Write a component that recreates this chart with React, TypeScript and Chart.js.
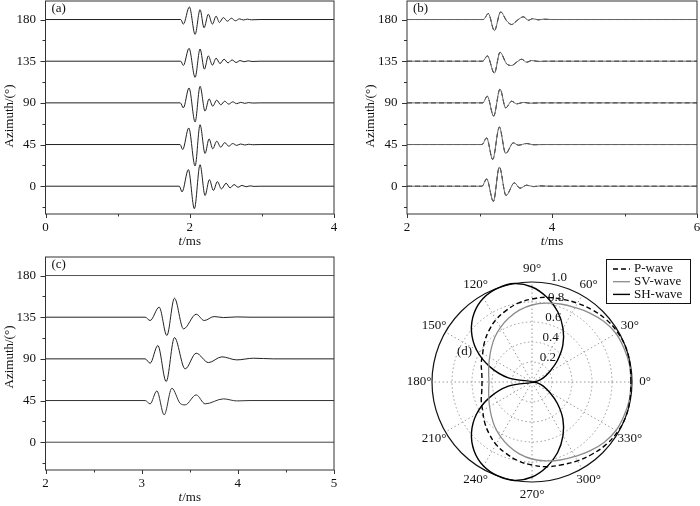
import React, { useEffect, useRef } from 'react';
import { Chart, registerables } from 'chart.js';

Chart.register(...registerables);

// ---------- shared ----------
const azimuths = [0, 45, 90, 135, 180];
const yTickValues = [-22.5, 0, 22.5, 45, 67.5, 90, 112.5, 135, 157.5, 180];
const yTickLabels = [0, 45, 90, 135, 180];

// ---------- panel (a): [t (ms), deflection (deg)] ----------
const waveA0: number[][] = [[0,0],[1.856,0],[1.893,-6.1],[1.981,17.9],[2.064,-24.3],[2.143,23.2],[2.212,-10.0],[2.272,7.1],[2.328,-4.6],[2.383,5.0],[2.439,-2.9],[2.504,3.2],[2.559,-1.8],[2.615,1.8],[2.670,-1.1],[2.725,0.9],[2.781,-0.6],[2.836,0.4],[2.892,-0.2],[2.975,0],[4,0]];
const waveA45: number[][] = [[0,0],[1.866,0],[1.902,-5.4],[1.986,17.9],[2.074,-23.2],[2.143,21.4],[2.212,-9.6],[2.268,6.1],[2.319,-4.6],[2.374,3.6],[2.430,-2.9],[2.485,2.1],[2.541,-1.8],[2.596,1.1],[2.652,-0.9],[2.707,0.6],[2.763,-0.5],[2.818,0.3],[2.874,-0.2],[2.975,0],[4,0]];
const waveA90: number[][] = [[0,0],[1.870,0],[1.911,-5.4],[1.990,16.1],[2.074,-20.7],[2.143,17.9],[2.212,-8.9],[2.268,4.3],[2.319,-3.6],[2.374,2.9],[2.430,-2.1],[2.485,1.8],[2.541,-1.4],[2.596,1.1],[2.652,-0.9],[2.707,0.6],[2.763,-0.5],[2.818,0.3],[2.874,-0.2],[2.975,0],[4,0]];
const waveA135: number[][] = [[0,0],[1.875,0],[1.911,-4.6],[1.990,13.9],[2.074,-17.5],[2.143,13.2],[2.203,-8.6],[2.258,5.7],[2.314,-4.3],[2.365,3.2],[2.420,-2.5],[2.476,2.1],[2.531,-1.8],[2.587,1.4],[2.642,-1.4],[2.698,0.7],[2.753,-0.6],[2.809,0.4],[2.864,-0.3],[2.975,0],[4,0]];
const waveA180: number[][] = [[0,0],[1.875,0],[1.911,-5.0],[1.995,13.6],[2.074,-16.1],[2.143,10.7],[2.198,-8.9],[2.258,5.7],[2.314,-5.0],[2.365,3.6],[2.411,-3.2],[2.466,2.1],[2.522,-1.8],[2.577,1.4],[2.633,-1.4],[2.688,0.7],[2.744,-0.5],[2.799,0.4],[2.855,-0.3],[2.975,0],[4,0]];
const xTicksA = [0, 1, 2, 3, 4];
const xLabelsA = [0, 2, 4];

// ---------- panel (b) ----------
const waveB0: number[][] = [[2,0],[3.034,0],[3.099,7.9],[3.191,-16.4],[3.274,20.7],[3.366,-10.0],[3.481,3.6],[3.559,-2.1],[3.651,1.1],[3.743,-0.4],[3.834,0.3],[3.972,0],[6,0]];
const waveB45: number[][] = [[2,0],[3.034,0],[3.099,7.1],[3.182,-16.1],[3.274,18.9],[3.361,-9.6],[3.467,1.8],[3.536,-0.7],[3.651,1.1],[3.743,-0.2],[3.880,0],[6,0]];
const waveB90: number[][] = [[2,0],[3.044,0],[3.108,7.1],[3.195,-14.3],[3.283,15.0],[3.361,-5.4],[3.444,1.8],[3.513,-1.1],[3.605,0.5],[3.697,-0.3],[3.834,0],[6,0]];
const waveB135: number[][] = [[2,0],[3.044,0],[3.108,5.7],[3.205,-12.9],[3.283,9.6],[3.375,-2.9],[3.444,-4.6],[3.513,-1.0],[3.582,2.1],[3.651,-1.1],[3.720,0.7],[3.811,-0.2],[3.927,0],[6,0]];
const waveB180: number[][] = [[2,0],[3.053,0],[3.122,6.4],[3.205,-12.1],[3.292,8.2],[3.375,-1.5],[3.444,-5.4],[3.522,-0.8],[3.605,2.9],[3.674,-0.8],[3.733,0.9],[3.811,-0.3],[3.880,0.3],[4.018,0],[6,0]];
const xTicksB = [2, 3, 4, 5, 6];
const xLabelsB = [2, 4, 6];

// ---------- panel (c) ----------
const waveC0: number[][] = [[2,0],[5,0]];
const waveC45: number[][] = [[2,0],[3.036,0],[3.088,-3.6],[3.158,10.4],[3.234,-15.5],[3.314,13.3],[3.400,-3.0],[3.452,-4.7],[3.567,6.1],[3.660,-3.6],[3.850,1.8],[3.989,-0.4],[4.127,0],[5,0]];
const waveC90: number[][] = [[2,0],[3.036,0],[3.088,-4.7],[3.168,14.4],[3.255,-24.5],[3.341,23.0],[3.452,-10.8],[3.567,6.1],[3.695,-4.0],[3.834,2.2],[3.989,-1.1],[4.162,0.7],[4.370,0],[5,0]];
const waveC135: number[][] = [[2,0],[3.036,0],[3.088,-3.6],[3.182,10.8],[3.262,-19.8],[3.341,20.5],[3.435,-12.6],[3.567,3.2],[3.650,-3.6],[3.754,0.7],[3.850,-0.4],[3.989,0.3],[4.127,0],[5,0]];
const waveC180: number[][] = [[2,0],[5,0]];
const xTicksC = [2, 2.5, 3, 3.5, 4, 4.5, 5];
const xLabelsC = [2, 3, 4, 5];

// ---------- panel (d): polar radiation patterns ----------
const polarAngles = [0,10,20,30,40,50,60,70,80,90,100,110,120,130,140,150,160,170,180,190,200,210,220,230,240,250,260,270,280,290,300,310,320,330,340,350,360];
const pWave = [0.99,0.995,1.0,0.99,0.97,0.94,0.91,0.88,0.86,0.83,0.80,0.76,0.72,0.67,0.62,0.57,0.54,0.51,0.50,0.51,0.54,0.57,0.62,0.67,0.72,0.76,0.80,0.83,0.86,0.88,0.91,0.94,0.97,0.99,1.0,0.995,0.99];
const svWave = [0.99,0.99,0.98,0.97,0.94,0.90,0.86,0.83,0.80,0.77,0.73,0.68,0.63,0.58,0.53,0.49,0.46,0.44,0.43,0.44,0.46,0.49,0.53,0.58,0.63,0.68,0.73,0.77,0.80,0.83,0.86,0.90,0.94,0.97,0.98,0.99,0.99];
const shWave = [0,0.06,0.12,0.20,0.33,0.48,0.62,0.75,0.86,0.95,1.0,1.0,0.97,0.90,0.79,0.64,0.45,0.24,0,0.24,0.45,0.64,0.79,0.90,0.97,1.0,1.0,0.95,0.86,0.75,0.62,0.48,0.33,0.20,0.12,0.06,0];
const radialTicks = [0.2, 0.4, 0.6, 0.8, 1.0];
const angleTicks = [0, 30, 60, 90, 120, 150, 180, 210, 240, 270, 300, 330];
const polarSeriesNames = ['P-wave', 'SV-wave', 'SH-wave'];

const FONT = '"Liberation Serif", "Times New Roman", serif';
const TXT = '#111';

type Panel = {
  left: number; top: number; width: number; height: number;
  padding: { top: number; left: number; right: number; bottom: number };
  yW: number; xH: number; titleX: number; titleY: number;
  xMin: number; xMax: number; xTicks: number[]; xLabels: number[];
  traces: number[][][]; dashed?: boolean; colors?: string[]; label: string;
};

function framePlugin(p: Panel) {
  return {
    id: 'frame',
    afterDraw(chart: any) {
      const { ctx, chartArea: a, scales } = chart;
      ctx.save();
      ctx.strokeStyle = '#333';
      ctx.lineWidth = 1;
      ctx.strokeRect(a.left, a.top, a.right - a.left, a.bottom - a.top);
      const xs = scales.x, ys = scales.y;
      ctx.beginPath();
      p.xTicks.forEach((v) => {
        const px = Math.round(xs.getPixelForValue(v)) + 0.5;
        const len = p.xLabels.includes(v) ? 4 : 2.5;
        ctx.moveTo(px, a.bottom);
        ctx.lineTo(px, a.bottom + len);
      });
      yTickValues.forEach((v) => {
        const py = Math.round(ys.getPixelForValue(v)) + 0.5;
        const len = yTickLabels.includes(v) ? 5 : 3;
        ctx.moveTo(a.left, py);
        ctx.lineTo(a.left - len, py);
      });
      ctx.stroke();
      ctx.fillStyle = TXT;
      ctx.font = `13px ${FONT}`;
      ctx.textBaseline = 'middle';
      ctx.textAlign = 'left';
      ctx.fillText(p.label, a.left + 6, a.top + 8);
      // x title: italic t + /ms
      const cx = (a.left + a.right) / 2;
      const ty = a.bottom + 28;
      ctx.font = `italic 13px ${FONT}`;
      const w1 = ctx.measureText('t').width;
      ctx.font = `13px ${FONT}`;
      const w2 = ctx.measureText('/ms').width;
      const sx = cx - (w1 + w2) / 2;
      ctx.font = `italic 13px ${FONT}`;
      ctx.fillText('t', sx, ty);
      ctx.font = `13px ${FONT}`;
      ctx.fillText('/ms', sx + w1, ty);
      // y title
      ctx.save();
      ctx.translate(p.titleX, p.titleY);
      ctx.rotate(-Math.PI / 2);
      ctx.textAlign = 'center';
      ctx.fillText('Azimuth/(°)', 0, 0);
      ctx.restore();
      ctx.restore();
    },
  };
}

function waveConfig(p: Panel): any {
  const datasets: any[] = p.traces.map((tr, i) => ({
    data: tr.map(([t, v]) => ({ x: t, y: azimuths[i] + v })),
    borderColor: p.dashed ? '#666' : (p.colors ? p.colors[i] : '#222'),
    borderWidth: 1,
    pointRadius: 0,
    cubicInterpolationMode: 'monotone',
    fill: false,
  }));
  if (p.dashed) {
    p.traces.forEach((tr, i) => {
      datasets.push({
        data: tr.map(([t, v]) => ({ x: t, y: azimuths[i] + v })),
        borderColor: '#000',
        borderWidth: 1,
        borderDash: [5, 3],
        pointRadius: 0,
        cubicInterpolationMode: 'monotone',
        fill: false,
      });
    });
  }
  return {
    type: 'line',
    data: { datasets },
    options: {
      responsive: false,
      animation: false,
      events: [],
      layout: { padding: p.padding },
      plugins: { legend: { display: false }, tooltip: { enabled: false } },
      scales: {
        x: {
          type: 'linear', min: p.xMin, max: p.xMax,
          grid: { display: false, drawTicks: false },
          border: { display: false },
          afterBuildTicks: (s: any) => { s.ticks = p.xTicks.map((v) => ({ value: v })); },
          afterFit: (s: any) => { s.height = p.xH; s.paddingLeft = 0; s.paddingRight = 0; },
          ticks: {
            autoSkip: false, maxRotation: 0, padding: 6, color: TXT,
            font: { family: FONT, size: 13 },
            callback: (v: number) => (p.xLabels.includes(v) ? String(v) : ''),
          },
        },
        y: {
          type: 'linear', min: -30, max: 200,
          grid: { display: false, drawTicks: false },
          border: { display: false },
          afterBuildTicks: (s: any) => { s.ticks = yTickValues.map((v) => ({ value: v })); },
          afterFit: (s: any) => { s.width = p.yW; s.paddingTop = 0; s.paddingBottom = 0; },
          ticks: {
            autoSkip: false, padding: 9.5, color: TXT,
            font: { family: FONT, size: 13 },
            callback: (v: number) => (yTickLabels.includes(v) ? String(v) : ''),
          },
        },
      },
    },
    plugins: [framePlugin(p)],
  };
}

const polarPlugin = {
  id: 'polarDeco',
  beforeDatasetsDraw(chart: any) {
    const { ctx, scales: { x, y } } = chart;
    const cx = x.getPixelForValue(0), cy = y.getPixelForValue(0);
    const R = (r: number) => x.getPixelForValue(r) - cx;
    ctx.save();
    ctx.strokeStyle = '#999';
    ctx.lineWidth = 1;
    ctx.setLineDash([1.5, 2.5]);
    radialTicks.slice(0, -1).forEach((r) => {
      ctx.beginPath();
      ctx.arc(cx, cy, R(r), 0, Math.PI * 2);
      ctx.stroke();
    });
    angleTicks.forEach((a) => {
      const rad = (a * Math.PI) / 180;
      ctx.beginPath();
      ctx.moveTo(cx, cy);
      ctx.lineTo(cx + R(1) * Math.cos(rad), cy - R(1) * Math.sin(rad));
      ctx.stroke();
    });
    ctx.setLineDash([]);
    ctx.strokeStyle = '#111';
    ctx.lineWidth = 1.2;
    ctx.beginPath();
    ctx.arc(cx, cy, R(1), 0, Math.PI * 2);
    ctx.stroke();
    ctx.restore();
  },
  afterDatasetsDraw(chart: any) {
    const { ctx, scales: { x, y } } = chart;
    ctx.save();
    ctx.fillStyle = TXT;
    ctx.font = `13px ${FONT}`;
    ctx.textAlign = 'center';
    ctx.textBaseline = 'middle';
    angleTicks.forEach((a) => {
      const rad = (a * Math.PI) / 180;
      ctx.fillText(`${a}°`, x.getPixelForValue(1.13 * Math.cos(rad)), y.getPixelForValue(1.13 * Math.sin(rad)));
    });
    const lr = (82 * Math.PI) / 180;
    radialTicks.forEach((r) => {
      ctx.fillText(r.toFixed(1), x.getPixelForValue(r * Math.cos(lr) + 0.13), y.getPixelForValue(r * Math.sin(lr) + 0.05));
    });
    // panel label
    ctx.textAlign = 'left';
    ctx.fillText('(d)', x.getPixelForValue(-0.75), y.getPixelForValue(0.3));
    // legend
    const bx = 226, by = 9, bw = 84, bh = 44;
    ctx.fillStyle = '#fff';
    ctx.fillRect(bx, by, bw, bh);
    ctx.strokeStyle = '#111';
    ctx.lineWidth = 1;
    ctx.strokeRect(bx + 0.5, by + 0.5, bw, bh);
    chart.data.datasets.forEach((ds: any, i: number) => {
      const ly = by + 10 + i * 12.7;
      ctx.strokeStyle = ds.borderColor;
      ctx.lineWidth = ds.borderWidth;
      ctx.setLineDash(ds.borderDash || []);
      ctx.beginPath();
      ctx.moveTo(bx + 7, ly);
      ctx.lineTo(bx + 24, ly);
      ctx.stroke();
      ctx.setLineDash([]);
      ctx.fillStyle = TXT;
      ctx.fillText(ds.label, bx + 28, ly);
    });
    ctx.restore();
  },
};

function toXY(vals: number[]) {
  return vals.map((r, i) => {
    const rad = (polarAngles[i] * Math.PI) / 180;
    return { x: r * Math.cos(rad), y: r * Math.sin(rad) };
  });
}

function polarConfig(): any {
  const styles = [
    { borderColor: '#000', borderWidth: 1.4, borderDash: [5, 3] },
    { borderColor: '#8c8c8c', borderWidth: 1.3 },
    { borderColor: '#000', borderWidth: 1.4 },
  ];
  const series = [pWave, svWave, shWave];
  return {
    type: 'scatter',
    data: {
      datasets: series.map((s, i) => ({
        label: polarSeriesNames[i],
        data: toXY(s),
        showLine: true,
        pointRadius: 0,
        tension: 0.4,
        fill: false,
        ...styles[i],
      })),
    },
    options: {
      responsive: false,
      animation: false,
      events: [],
      layout: { padding: { left: 40, top: 20, right: 56, bottom: 12 } },
      plugins: { legend: { display: false }, tooltip: { enabled: false } },
      scales: {
        x: { type: 'linear', min: -1.12, max: 1.12, display: false },
        y: { type: 'linear', min: -1.12, max: 1.12, display: false },
      },
    },
    plugins: [polarPlugin],
  };
}

function ChartBox({ left, top, width, height, make }: { left: number; top: number; width: number; height: number; make: () => any }) {
  const ref = useRef<HTMLCanvasElement>(null);
  useEffect(() => {
    const chart = new Chart(ref.current as HTMLCanvasElement, make());
    return () => chart.destroy();
  }, []);
  return (
    <div style={{ position: 'absolute', left, top, width, height }}>
      <canvas ref={ref} width={width} height={height} style={{ width, height, display: 'block' }} />
    </div>
  );
}

const panelA: Panel = {
  left: 0, top: 0, width: 350, height: 250,
  padding: { top: 1, left: 0, right: 16, bottom: 0 }, yW: 45.5, xH: 36, titleX: 10, titleY: 116,
  xMin: 0, xMax: 4, xTicks: xTicksA, xLabels: xLabelsA,
  traces: [waveA0, waveA45, waveA90, waveA135, waveA180], label: '(a)',
};
const panelB: Panel = {
  left: 355, top: 0, width: 345, height: 250,
  padding: { top: 1, left: 0, right: 3, bottom: 0 }, yW: 52, xH: 36, titleX: 16, titleY: 116,
  xMin: 2, xMax: 6, xTicks: xTicksB, xLabels: xLabelsB,
  traces: [waveB0, waveB45, waveB90, waveB135, waveB180], dashed: true, label: '(b)',
};
const panelC: Panel = {
  left: 0, top: 250, width: 350, height: 256,
  padding: { top: 7, left: 0, right: 16, bottom: 0 }, yW: 45.5, xH: 36, titleX: 10, titleY: 107,
  xMin: 2, xMax: 5, xTicks: xTicksC, xLabels: xLabelsC,
  traces: [waveC0, waveC45, waveC90, waveC135, waveC180],
  colors: ['#444', '#333', '#222', '#222', '#555'], label: '(c)',
};

export default function App() {
  return (
    <div style={{ position: 'absolute', left: 0, top: 0, width: 700, height: 506, background: '#fff', overflow: 'hidden' }}>
      {[panelA, panelB, panelC].map((p) => (
        <ChartBox key={p.label} left={p.left} top={p.top} width={p.width} height={p.height} make={() => waveConfig(p)} />
      ))}
      <ChartBox left={380} top={250} width={320} height={256} make={polarConfig} />
    </div>
  );
}
